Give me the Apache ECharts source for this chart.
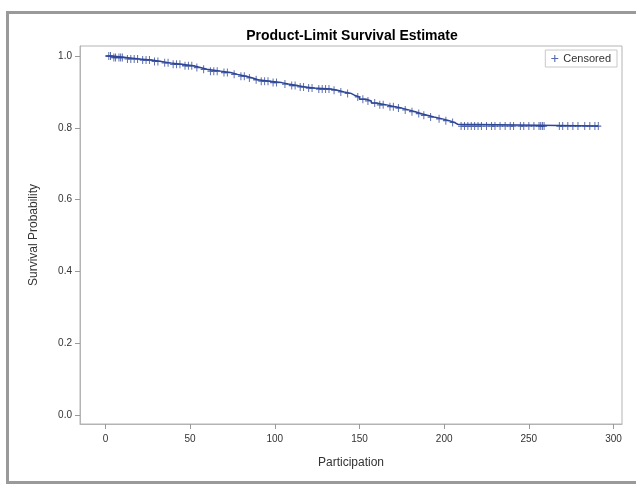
<!DOCTYPE html>
<html>
<head>
<meta charset="utf-8">
<script src="https://cdn.jsdelivr.net/npm/echarts@6/dist/echarts.min.js"></script>
<style>html,body{margin:0;padding:0;background:#fff}#c{width:636px;height:485px}</style>
</head>
<body>
<div id="c"></div>
<script>
// Kaplan-Meier step points: event time and survival after the event
const eventTimes = [0, 4, 12, 20, 27, 33, 38, 45, 52, 56, 60, 68, 74, 78, 83, 87, 90, 97, 104, 108, 113, 118, 123, 133, 137, 141, 145, 147, 150, 154, 157, 160, 166, 171, 175, 179, 183, 186, 190, 194, 199, 203, 206, 208, 291];
const survival   = [1.000, 0.996, 0.992, 0.989, 0.985, 0.981, 0.977, 0.973, 0.968, 0.963, 0.958, 0.954, 0.949, 0.944, 0.939, 0.934, 0.930, 0.926, 0.922, 0.918, 0.914, 0.911, 0.908, 0.905, 0.900, 0.896, 0.891, 0.886, 0.880, 0.875, 0.869, 0.864, 0.859, 0.855, 0.850, 0.845, 0.840, 0.835, 0.830, 0.825, 0.820, 0.815, 0.810, 0.805, 0.805];
// censored observation times
const censorTimes = [2, 3, 5, 6, 8, 9, 10, 13, 15, 17, 19, 22, 24, 26, 29, 31, 35, 37, 40, 42, 44, 47, 49, 51, 54, 58, 62, 64, 66, 70, 72, 76, 80, 82, 85, 89, 92, 94, 96, 99, 101, 106, 110, 112, 115, 117, 120, 122, 126, 128, 130, 132, 135, 139, 143, 149, 152, 155, 159, 162, 164, 168, 170, 173, 177, 181, 185, 188, 192, 197, 201, 205, 210, 212, 214, 216, 218, 220, 222, 225, 228, 230, 233, 236, 239, 241, 245, 247, 250, 253, 256, 257, 258, 259, 268, 270, 273, 276, 279, 283, 286, 289, 291];
const xTicks = [0, 50, 100, 150, 200, 250, 300];
const yTicks = [0, 0.2, 0.4, 0.6, 0.8, 1.0];

function survAt(t) {
  let s = survival[0];
  for (let i = 0; i < eventTimes.length; i++) { if (eventTimes[i] <= t) s = survival[i]; }
  return s;
}
const curve = eventTimes.map((t, i) => [t, survival[i]]);
const censored = censorTimes.map(t => [t, survAt(t)]);

const blue = '#2c4596';
const plus = 'path://M0,4.2H10V5.8H0Z M4.2,0H5.8V10H4.2Z';
const font = 'Liberation Sans, Arial, sans-serif';
const chart = echarts.init(document.getElementById('c'), null, {renderer: 'canvas'});
chart.setOption({
  animation: false,
  backgroundColor: '#fff',
  textStyle: {fontFamily: font},
  title: {
    text: 'Product-Limit Survival Estimate', left: 347, top: 24, textAlign: 'center',
    textStyle: {fontSize: 14, fontWeight: 'bold', color: '#000', fontFamily: font}
  },
  legend: {
    right: 19, top: 50, padding: [3, 6, 3, 6], itemGap: 5,
    borderColor: '#c8c8c8', borderWidth: 1,
    itemWidth: 7, itemHeight: 8,
    textStyle: {fontSize: 11, color: '#333'},
    data: [{name: 'Censored', icon: plus}]
  },
  graphic: [{
    type: 'rect', shape: {x: 7.5, y: 12.5, width: 700, height: 470},
    style: {fill: 'none', stroke: '#9a9a9a', lineWidth: 3}, silent: true
  }],
  grid: {left: 80, right: 14, top: 46, bottom: 61, show: true, borderColor: '#b4b4b4', borderWidth: 1},
  xAxis: {
    type: 'value', min: -15, max: 305,
    name: 'Participation', nameLocation: 'middle', nameGap: 33,
    nameTextStyle: {fontSize: 12, color: '#333'},
    axisLine: {show: true, onZero: false, lineStyle: {color: '#b4b4b4'}},
    axisTick: {show: true, length: 5, lineStyle: {color: '#999'}, customValues: xTicks},
    axisLabel: {fontSize: 10, color: '#333', margin: 10, customValues: xTicks},
    splitLine: {show: false}
  },
  yAxis: {
    type: 'value', min: -0.025, max: 1.028,
    name: 'Survival Probability', nameLocation: 'middle', nameGap: 40,
    nameTextStyle: {fontSize: 12, color: '#333'},
    axisLine: {show: true, onZero: false, lineStyle: {color: '#b4b4b4'}},
    axisTick: {show: true, length: 5, lineStyle: {color: '#999'}, customValues: yTicks},
    axisLabel: {fontSize: 10, color: '#333', margin: 8, customValues: yTicks, formatter: v => v.toFixed(1)},
    splitLine: {show: false}
  },
  series: [{
    type: 'line', step: 'end', data: curve, showSymbol: false, symbol: 'none',
    lineStyle: {color: blue, width: 1.5}, silent: true
  }, {
    name: 'Censored', type: 'scatter', data: censored, symbol: plus, symbolSize: [6, 8],
    itemStyle: {color: blue}
  }]
});
</script>
</body>
</html>
